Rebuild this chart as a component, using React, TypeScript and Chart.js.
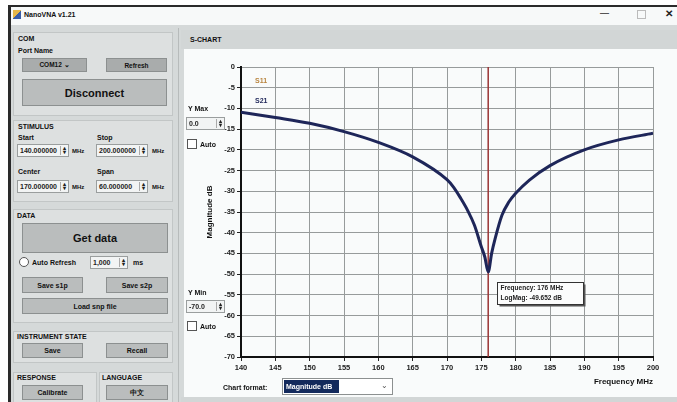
import React, { useEffect, useRef } from "react";
import { Chart, registerables } from "chart.js";

Chart.register(...registerables);

// ---- data ----
const frequencies = [140, 145, 150, 155, 160, 165, 170, 171, 172, 173, 174, 175, 175.5, 176, 176.5, 177, 178, 179, 180, 182, 185, 190, 195, 200];
const s21LogMag = [-10.9, -12.2, -13.6, -15.6, -18.2, -21.7, -27.2, -29.1, -31.7, -34.6, -38.2, -43.4, -45.8, -49.5, -45.0, -41.5, -35.8, -32.6, -30.5, -27.3, -23.8, -20.0, -17.6, -16.0];
const xTickValues = [140, 145, 150, 155, 160, 165, 170, 175, 180, 185, 190, 195, 200];
const yTickValues = [0, -5, -10, -15, -20, -25, -30, -35, -40, -45, -50, -55, -60, -65, -70];
const seriesNames = ["S11", "S21"];
const seriesColors = ["#b9853f", "#1e2659"];
const markerFreq = 176;
const markerText = ["Frequency: 176 MHz", "LogMag: -49.652 dB"];

const FONT = "'Liberation Sans', Arial, sans-serif";

const markerPlugin = {
  id: "marker",
  beforeDatasetsDraw(chart: any) {
    const { ctx, chartArea, scales } = chart;
    const x = scales.x.getPixelForValue(markerFreq);
    ctx.save();
    ctx.strokeStyle = "#9a3434";
    ctx.lineWidth = 1.5;
    ctx.beginPath();
    ctx.moveTo(x, chartArea.top);
    ctx.lineTo(x, chartArea.bottom);
    ctx.stroke();
    ctx.restore();
  },
  afterDatasetsDraw(chart: any) {
    const { ctx, scales } = chart;
    const i = frequencies.indexOf(markerFreq);
    const px = scales.x.getPixelForValue(frequencies[i]);
    const py = scales.y.getPixelForValue(s21LogMag[i]);
    const bx = Math.round(px + 9) + 0.5;
    const by = Math.round(py + 10) + 0.5;
    const w = 86;
    const h = 22;
    ctx.save();
    ctx.fillStyle = "#555";
    ctx.fillRect(bx + 2, by + 2, w, h);
    ctx.fillStyle = "#fbfcfc";
    ctx.fillRect(bx, by, w, h);
    ctx.strokeStyle = "#333";
    ctx.lineWidth = 1;
    ctx.strokeRect(bx, by, w, h);
    ctx.fillStyle = "#222";
    ctx.font = `bold 6.5px ${FONT}`;
    ctx.textBaseline = "middle";
    ctx.fillText(markerText[0], bx + 3, by + 6);
    ctx.fillText(markerText[1], bx + 3, by + 16);
    ctx.restore();
  },
};

function Btn({ x, y, w, h, text, size = 8, dark = false }: any) {
  return (
    <div
      style={{
        position: "absolute",
        left: x,
        top: y,
        width: w,
        height: h,
        background: dark ? "#a9acac" : "#babdbd",
        border: "1px solid #8c9090",
        boxSizing: "border-box",
        display: "flex",
        alignItems: "center",
        justifyContent: "center",
        fontSize: size,
        fontWeight: "bold",
        color: "#111",
      }}
    >
      {text}
    </div>
  );
}

function Lbl({ x, y, text, size = 7, color = "#111" }: any) {
  return (
    <div
      style={{
        position: "absolute",
        left: x,
        top: y,
        fontSize: size,
        fontWeight: "bold",
        color,
        whiteSpace: "nowrap",
        lineHeight: 1,
      }}
    >
      {text}
    </div>
  );
}

function Input({ x, y, w, text }: any) {
  return (
    <div
      style={{
        position: "absolute",
        left: x,
        top: y,
        width: w,
        height: 13,
        background: "#f2f4f4",
        border: "1px solid #9a9e9e",
        boxSizing: "border-box",
        fontSize: 7,
        fontWeight: "bold",
        color: "#222",
        lineHeight: "11px",
        paddingLeft: 2,
        whiteSpace: "nowrap",
        overflow: "hidden",
      }}
    >
      {text}
      <div
        style={{
          position: "absolute",
          right: 1,
          top: 1,
          width: 6,
          height: 9,
          borderLeft: "1px solid #aaa",
          fontSize: 6,
          lineHeight: "4px",
          textAlign: "center",
        }}
      >
        ▴<br />▾
      </div>
    </div>
  );
}

function Check({ x, y, text, round = false }: any) {
  return (
    <div style={{ position: "absolute", left: x, top: y, display: "flex", alignItems: "center" }}>
      <div
        style={{
          width: 8,
          height: 8,
          border: "1px solid #555",
          background: "#fff",
          borderRadius: round ? 5 : 0,
          marginRight: 3,
        }}
      />
      <span style={{ fontSize: 7, fontWeight: "bold", color: "#111" }}>{text}</span>
    </div>
  );
}

function Group({ x, y, w, h }: any) {
  return (
    <div
      style={{
        position: "absolute",
        left: x,
        top: y,
        width: w,
        height: h,
        border: "1px solid #c2c6c6",
        background: "#dde0e0",
        boxSizing: "border-box",
      }}
    />
  );
}

export default function App() {
  const canvasRef = useRef<HTMLCanvasElement | null>(null);

  useEffect(() => {
    document.body.style.margin = "0";
    const canvas = canvasRef.current;
    if (!canvas) return;
    const chart = new Chart(canvas, {
      type: "line",
      data: {
        datasets: [
          {
            label: seriesNames[1],
            data: frequencies.map((f, i) => ({ x: f, y: s21LogMag[i] })),
            borderColor: seriesColors[1],
            borderWidth: 3,
            pointRadius: 0,
            cubicInterpolationMode: "monotone",
            fill: false,
          },
        ],
      },
      options: {
        animation: false,
        responsive: false,
        maintainAspectRatio: false,
        events: [],
        layout: { padding: { top: 17, right: 24, left: 0, bottom: 0 } },
        plugins: { legend: { display: false }, tooltip: { enabled: false } },
        scales: {
          x: {
            type: "linear",
            min: xTickValues[0],
            max: xTickValues[xTickValues.length - 1],
            afterBuildTicks: (s: any) => {
              s.ticks = xTickValues.map((v) => ({ value: v }));
            },
            afterFit: (s: any) => {
              s.height = 38;
            },
            grid: { color: "#979b9b", lineWidth: 1, tickLength: 4, tickColor: "#222" },
            border: { color: "#111", width: 2 },
            ticks: {
              padding: 2,
              maxRotation: 0,
              autoSkip: false,
              color: "#222",
              font: { family: FONT, size: 7.5, weight: "bold" },
            },
            title: {
              display: true,
              text: "Frequency MHz",
              align: "end",
              color: "#111",
              font: { family: FONT, size: 8, weight: "bold" },
              padding: { top: 0, bottom: 8 },
            },
          },
          y: {
            type: "linear",
            min: yTickValues[yTickValues.length - 1],
            max: yTickValues[0],
            afterBuildTicks: (s: any) => {
              s.ticks = yTickValues.map((v) => ({ value: v }));
            },
            afterFit: (s: any) => {
              s.width = 58;
            },
            grid: { color: "#979b9b", lineWidth: 1, tickLength: 4, tickColor: "#222" },
            border: { color: "#111", width: 2 },
            ticks: {
              padding: 2,
              autoSkip: false,
              color: "#222",
              font: { family: FONT, size: 7.5, weight: "bold" },
            },
            title: {
              display: true,
              text: "Magnitude dB",
              color: "#111",
              font: { family: FONT, size: 8, weight: "bold" },
              padding: { top: 22, bottom: 0 },
            },
          },
        },
      } as any,
      plugins: [markerPlugin],
    });
    return () => chart.destroy();
  }, []);

  return (
    <div
      style={{
        position: "relative",
        width: 677,
        height: 402,
        overflow: "hidden",
        background: "#ffffff",
        fontFamily: FONT,
      }}
    >
      {/* window frame */}
      <div style={{ position: "absolute", left: 8, top: 5, width: 669, height: 2, background: "#2a2a2a" }} />
      <div style={{ position: "absolute", left: 8, top: 5, width: 3, height: 397, background: "#2a2a2a" }} />
      {/* title bar */}
      <div style={{ position: "absolute", left: 11, top: 7, width: 666, height: 18, background: "#f7f9f9" }} />
      <div style={{ position: "absolute", left: 13, top: 10, width: 8, height: 9, background: "linear-gradient(135deg,#e7b84a 50%,#3a5ea8 50%)" }} />
      <Lbl x={24} y={11} text="NanoVNA v1.21" size={7} />
      <Lbl x={600} y={9} text="—" size={9} color="#555" />
      <div style={{ position: "absolute", left: 637, top: 10, width: 7, height: 7, border: "1px solid #bbb" }} />
      <Lbl x={665} y={9} text="✕" size={10} color="#222" />
      {/* body background */}
      <div style={{ position: "absolute", left: 11, top: 25, width: 666, height: 377, background: "#d5d9d9" }} />

      {/* COM group */}
      <Group x={13} y={32} w={160} h={84} />
      <Lbl x={18} y={35} text="COM" />
      <Lbl x={18} y={47} text="Port Name" />
      <Btn x={22} y={58} w={65} h={14} text="COM12    ⌄" size={6.5} dark />
      <Btn x={106} y={58} w={61} h={14} text="Refresh" size={6.5} dark />
      <Btn x={22} y={79} w={145} h={27} text="Disconnect" size={11} />

      {/* STIMULUS group */}
      <Group x={13} y={120} w={160} h={82} />
      <Lbl x={18} y={123} text="STIMULUS" />
      <Lbl x={18} y={134} text="Start" />
      <Lbl x={97} y={134} text="Stop" />
      <Input x={17} y={144} w={52} text="140.000000" />
      <Lbl x={72} y={148} text="MHz" size={6} />
      <Input x={96} y={144} w={52} text="200.000000" />
      <Lbl x={152} y={148} text="MHz" size={6} />
      <Lbl x={18} y={168} text="Center" />
      <Lbl x={97} y={168} text="Span" />
      <Input x={17} y={180} w={52} text="170.000000" />
      <Lbl x={72} y={184} text="MHz" size={6} />
      <Input x={96} y={180} w={52} text="60.000000" />
      <Lbl x={152} y={184} text="MHz" size={6} />

      {/* DATA group */}
      <Group x={13} y={209} w={160} h={114} />
      <Lbl x={17} y={212} text="DATA" />
      <Btn x={22} y={223} w={146} h={30} text="Get data" size={11} />
      <Check x={19} y={257} text="Auto Refresh" round />
      <Input x={90} y={256} w={38} text="1,000" />
      <Lbl x={133} y={259} text="ms" />
      <Btn x={22} y={277} w={61} h={16} text="Save s1p" size={7} />
      <Btn x={106} y={277} w={62} h={16} text="Save s2p" size={7} />
      <Btn x={22} y={298} w={146} h={16} text="Load snp file" size={7} />

      {/* INSTRUMENT STATE */}
      <Group x={13} y={331} w={160} h={32} />
      <Lbl x={17} y={333} text="INSTRUMENT STATE" />
      <Btn x={22} y={343} w={61} h={15} text="Save" size={7} />
      <Btn x={106} y={343} w={62} h={15} text="Recall" size={7} />

      {/* RESPONSE / LANGUAGE */}
      <Group x={13} y={372} w={84} h={32} />
      <Group x={99} y={372} w={74} h={32} />
      <Lbl x={17} y={374} text="RESPONSE" />
      <Lbl x={102} y={374} text="LANGUAGE" />
      <Btn x={22} y={385} w={61} h={15} text="Calibrate" size={7} />
      <Btn x={106} y={385} w={62} h={15} text="中文" size={7} />

      {/* chart panel */}
      <div style={{ position: "absolute", left: 178, top: 28, width: 1, height: 374, background: "#b7bbbb" }} />
      <div style={{ position: "absolute", left: 181, top: 30, width: 496, height: 19, background: "#d2d6d6" }} />
      <Lbl x={190} y={36} text="S-CHART" />
      <div style={{ position: "absolute", left: 184, top: 49, width: 493, height: 348, background: "#f9fbfb" }} />
      <canvas
        ref={canvasRef}
        width={494}
        height={345}
        style={{ position: "absolute", left: 183, top: 50, width: 494, height: 345 }}
      />
      {/* legend */}
      <Lbl x={255} y={77} text={seriesNames[0]} size={7} color={seriesColors[0]} />
      <Lbl x={255} y={97} text={seriesNames[1]} size={7} color={seriesColors[1]} />
      {/* Y max / min controls */}
      <Lbl x={188} y={105} text="Y Max" />
      <Input x={186} y={117} w={39} text="0.0" />
      <Check x={187} y={139} text="Auto" />
      <Lbl x={188} y={289} text="Y Min" />
      <Input x={186} y={300} w={39} text="-70.0" />
      <Check x={187} y={321} text="Auto" />
      {/* chart format */}
      <Lbl x={223} y={384} text="Chart format:" />
      <div
        style={{
          position: "absolute",
          left: 282,
          top: 378,
          width: 111,
          height: 17,
          background: "#fff",
          border: "1px solid #8c9090",
          boxSizing: "border-box",
        }}
      >
        <div
          style={{
            position: "absolute",
            left: 1,
            top: 1,
            width: 55,
            height: 13,
            background: "#132a5c",
            color: "#fff",
            fontSize: 7,
            fontWeight: "bold",
            lineHeight: "13px",
            paddingLeft: 2,
            boxSizing: "border-box",
          }}
        >
          Magnitude dB
        </div>
        <div style={{ position: "absolute", right: 4, top: 2, fontSize: 8, color: "#555" }}>⌄</div>
      </div>
      <div style={{ position: "absolute", left: 181, top: 397, width: 496, height: 5, background: "#d2d6d6" }} />
    </div>
  );
}
